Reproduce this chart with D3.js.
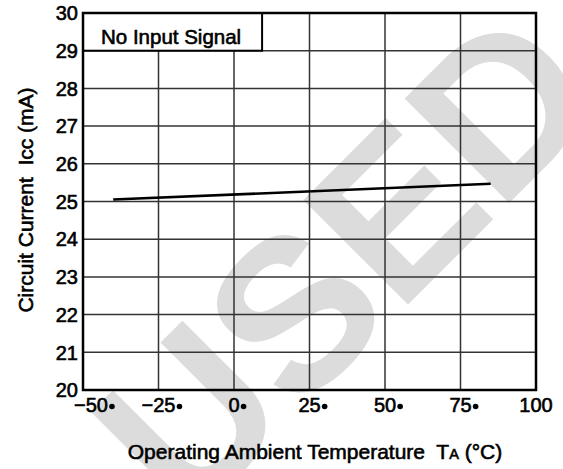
<!DOCTYPE html>
<html>
<head>
<meta charset="utf-8">
<script src="https://cdn.jsdelivr.net/npm/d3@7"></script>
<style>
  body { margin: 0; background: #fff; }
  svg text { font-family: "Liberation Sans", Arial, sans-serif; fill: #000; white-space: pre; }
  svg text.lbl { stroke: #000; stroke-width: 0.6px; }
</style>
</head>
<body>
<div id="chart"></div>
<script>
// 데이터
var tempTicks = [-50, -25, 0, 25, 50, 75, 100];
var currentTicks = [20, 21, 22, 23, 24, 25, 26, 27, 28, 29, 30];
var lineTemp = [-40, 85];
var lineCurrent = [25.05, 25.47];
var boxLabel = "No Input Signal";

function makeChart(div_id, pWidth, pHeight) {
	var margin = {top: 13, right: 27, bottom: 79, left: 83};
	var width = pWidth - margin.left - margin.right;
	var height = pHeight - margin.top - margin.bottom;

	var root = d3.select("#" + div_id).append("svg")
		.attr("width", pWidth)
		.attr("height", pHeight);

	// 워터마크
	root.append("text")
		.attr("transform", "translate(345,262) rotate(-45)")
		.attr("text-anchor", "middle")
		.attr("dominant-baseline", "central")
		.attr("font-size", 215)
		.attr("font-weight", "bold")
		.style("fill", "#dcdcdc")
		.text("USED");

	var svg = root.append("g")
		.attr("transform", "translate(" + margin.left + "," + margin.top + ")");

	var x = d3.scaleLinear().domain([-50, 100]).range([0, width]);
	var y = d3.scaleLinear().domain([20, 30]).range([height, 0]);

	// 그리드
	svg.append("g").selectAll("line")
		.data(tempTicks.slice(1, -1))
		.enter().append("line")
			.attr("x1", function(d) { return x(d); })
			.attr("x2", function(d) { return x(d); })
			.attr("y1", 0).attr("y2", height)
			.attr("stroke", "#333").attr("stroke-width", 1.5);

	svg.append("g").selectAll("line")
		.data(currentTicks.slice(1, -1))
		.enter().append("line")
			.attr("x1", 0).attr("x2", width)
			.attr("y1", function(d) { return y(d); })
			.attr("y2", function(d) { return y(d); })
			.attr("stroke", "#333").attr("stroke-width", 1.5);

	// 라벨 박스
	var boxRight = x(9.3);
	svg.append("rect")
		.attr("x", 0).attr("y", 0)
		.attr("width", boxRight).attr("height", y(29))
		.attr("fill", "#fff").attr("stroke", "#000").attr("stroke-width", 2);
	svg.append("text")
		.attr("class", "lbl")
		.attr("x", 18).attr("y", y(29) - 7)
		.attr("font-size", 20.5)
		.text(boxLabel);

	// 데이터 라인
	var drawLine = d3.line()
		.x(function(d) { return x(d[0]); })
		.y(function(d) { return y(d[1]); });
	svg.append("path")
		.datum(d3.zip(lineTemp, lineCurrent))
		.attr("d", drawLine)
		.attr("fill", "none")
		.attr("stroke", "#000")
		.attr("stroke-width", 2.5);

	// 외곽선
	svg.append("rect")
		.attr("width", width).attr("height", height)
		.attr("fill", "none").attr("stroke", "#000").attr("stroke-width", 2.5);

	// x축 라벨
	var xl = svg.append("g").attr("font-size", 20);
	tempTicks.forEach(function(t, i) {
		var cx = x(t) + (i == 0 ? 8 : 0);
		var lab = t < 0 ? "\u2212" + Math.abs(t) : String(t);
		var txt = xl.append("text")
			.attr("class", "lbl")
			.attr("x", cx)
			.attr("y", height + 22)
			.attr("text-anchor", "middle")
			.text(lab);
		if (t != 100) {
			var w = txt.node().getComputedTextLength();
			xl.append("circle")
				.attr("cx", cx + w / 2 + 4)
				.attr("cy", height + 16.5)
				.attr("r", 2.8)
				.attr("fill", "#000");
		}
	});

	// y축 라벨
	svg.append("g").attr("font-size", 20).selectAll("text")
		.data(currentTicks)
		.enter().append("text")
			.attr("class", "lbl")
			.attr("x", -5)
			.attr("y", function(d) { return y(d); })
			.attr("dy", "0.36em")
			.attr("text-anchor", "end")
			.text(function(d) { return d; });

	// 축 제목
	var xt = root.append("text")
		.attr("class", "lbl")
		.attr("x", 315).attr("y", 459)
		.attr("text-anchor", "middle")
		.attr("font-size", 21);
	xt.append("tspan").text("Operating Ambient Temperature  T");
	xt.append("tspan").attr("font-size", 14.5).text("A");
	xt.append("tspan").text(" (\u00B0C)");

	var yt = root.append("text")
		.attr("class", "lbl")
		.attr("transform", "translate(33,200) rotate(-90)")
		.attr("text-anchor", "middle")
		.attr("font-size", 21);
	yt.append("tspan").text("Circuit Current  Icc (mA)");
}

makeChart("chart", 563, 469);
</script>
</body>
</html>
